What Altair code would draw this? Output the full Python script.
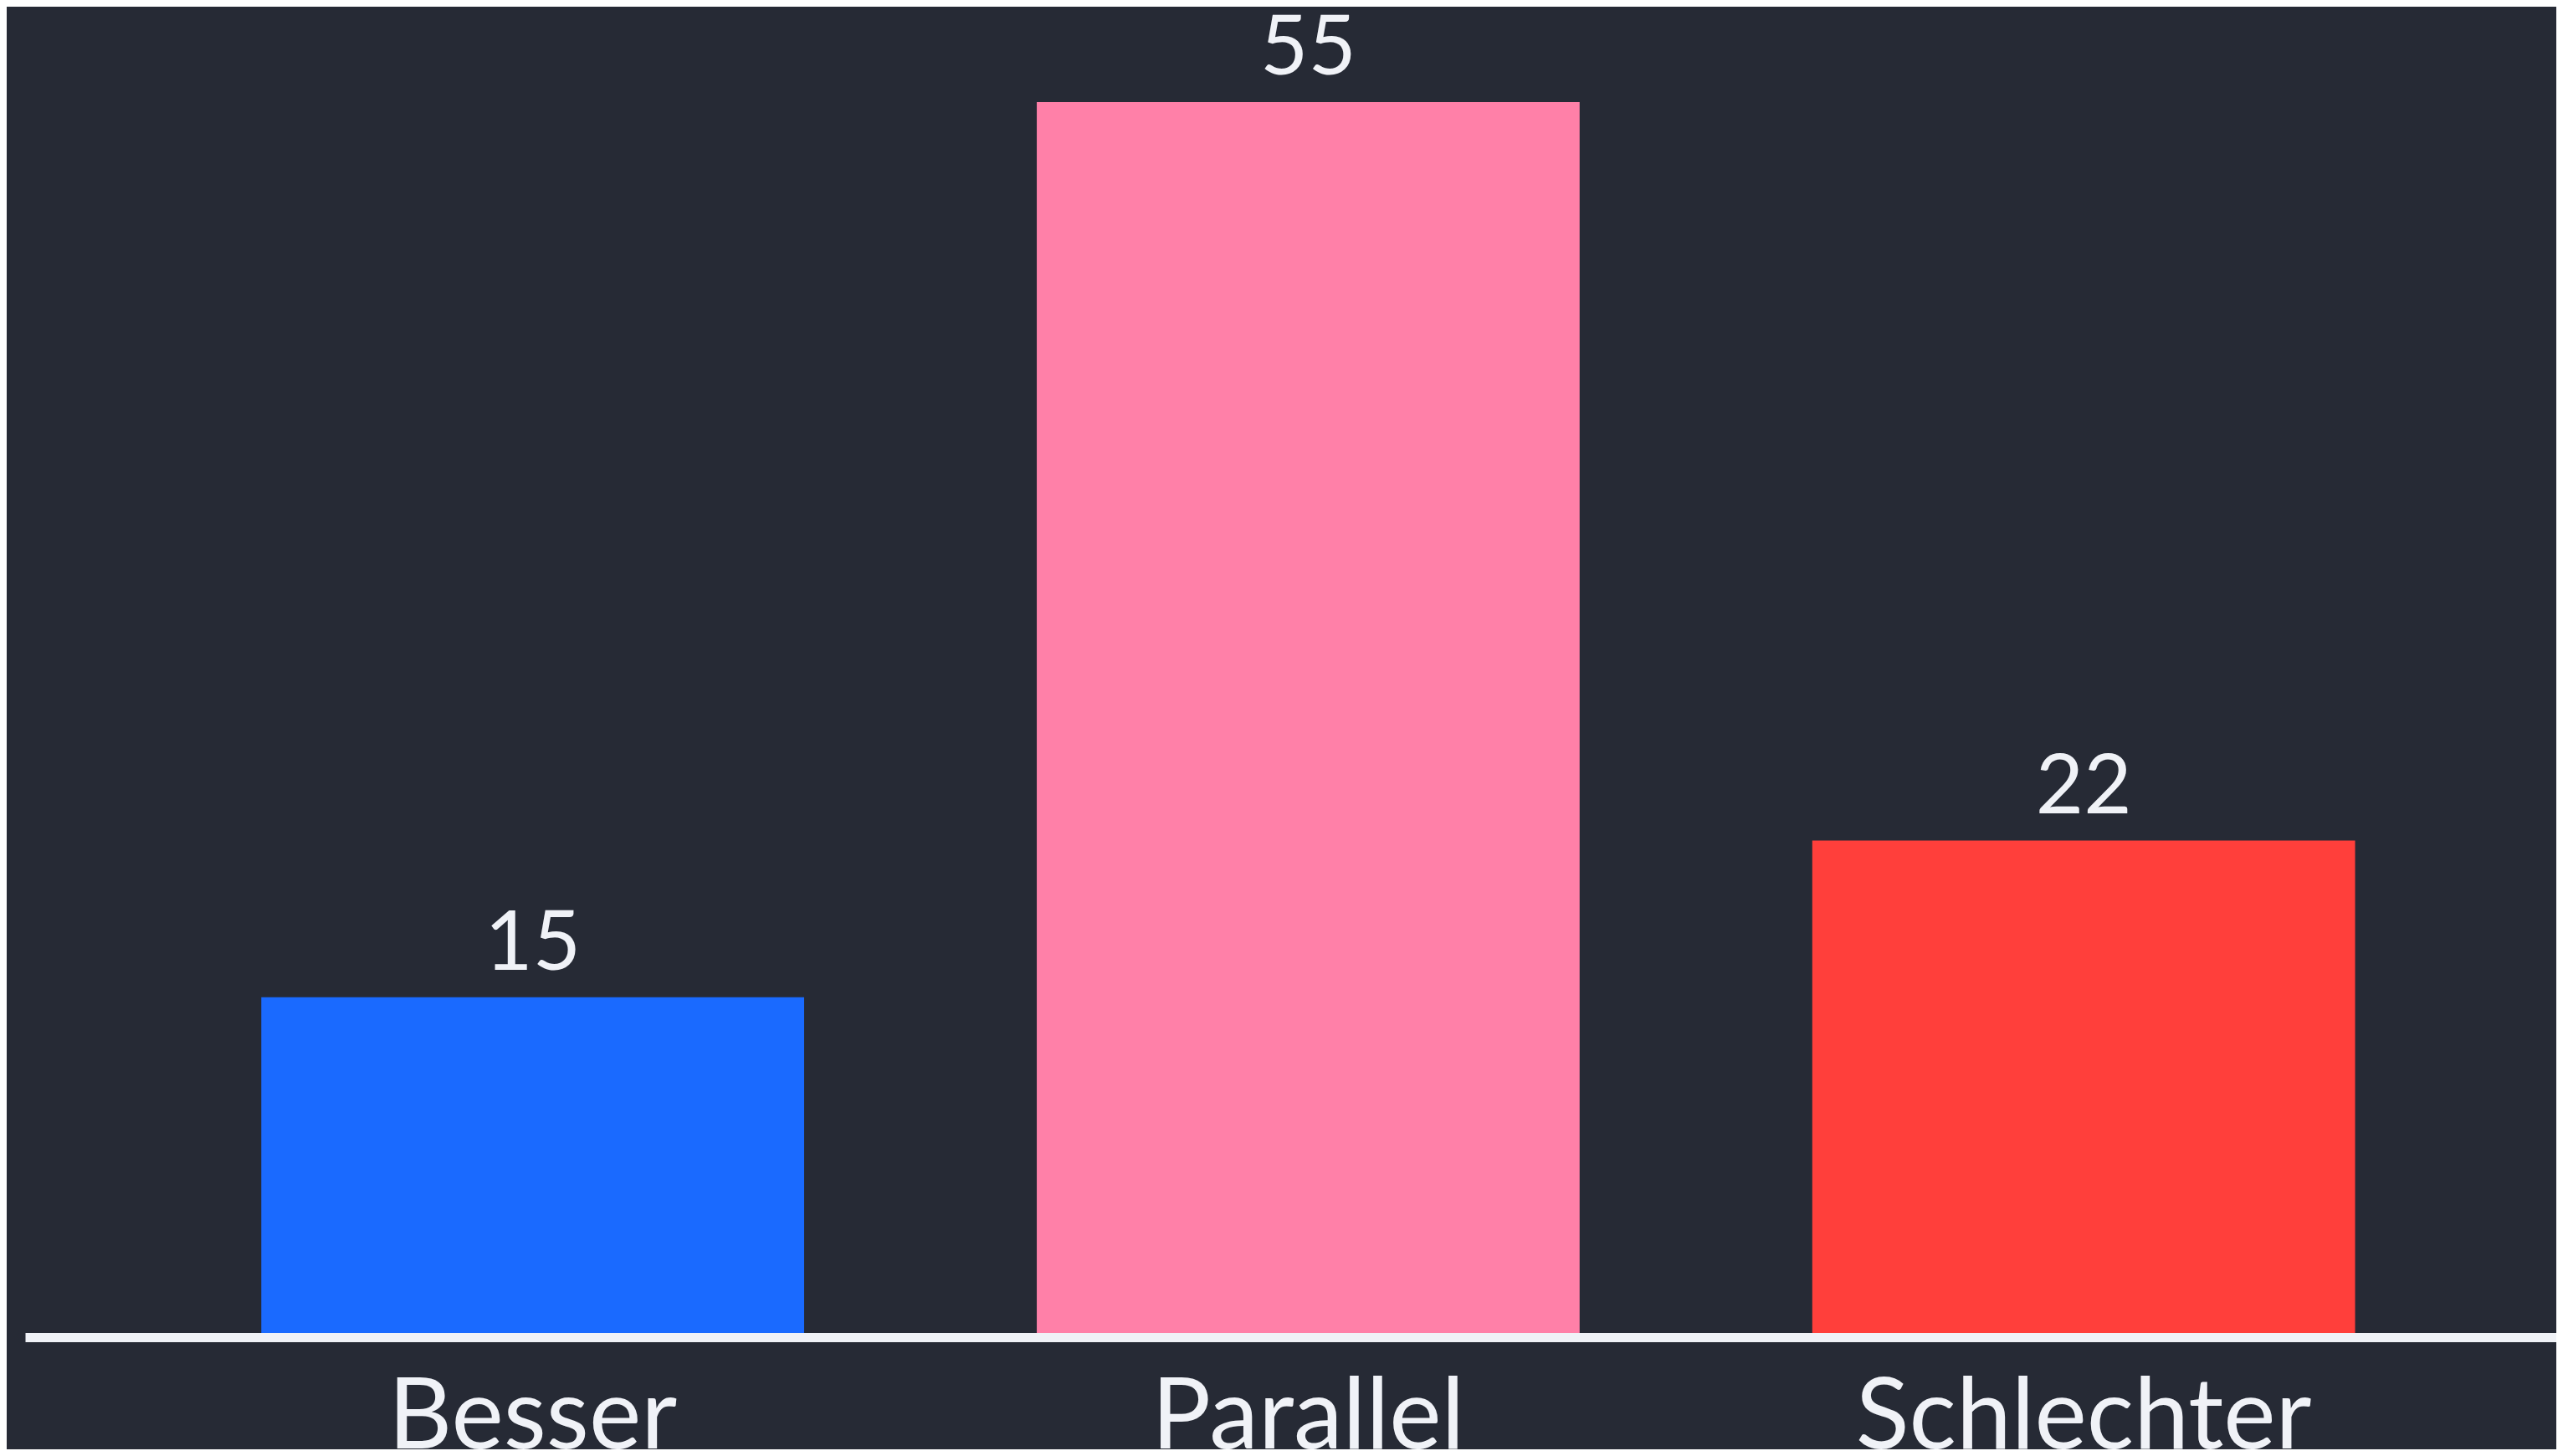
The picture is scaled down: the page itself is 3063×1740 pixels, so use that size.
import altair as alt
import pandas as pd

categories = ["Besser", "Parallel", "Schlechter"]
values = [15, 55, 22]
colors = ["#1a6aff", "#ff80a8", "#ff3f3b"]

df = pd.DataFrame({"cat": categories, "val": values, "col": colors})

x = alt.X(
    "cat:N",
    sort=categories,
    title=None,
    scale=alt.Scale(paddingInner=0.3, paddingOuter=0.282, align=0.54),
    axis=alt.Axis(
        labelAngle=0,
        labelFont="Lato",
        labelFontSize=118,
        labelColor="#f0f2f7",
        labelBaseline="alphabetic",
        labelPadding=132,
        labelLimit=0,
        labelOverlap=False,
        ticks=False,
        tickSize=0,
        grid=False,
        domainColor="#f0f2f7",
        domainWidth=11,
        offset=5,
    ),
)
y = alt.Y("val:Q", title=None, axis=None, scale=alt.Scale(domain=[0, 55], nice=False))

bars = alt.Chart(df).mark_bar().encode(
    x=x, y=y, color=alt.Color("col:N", scale=None, legend=None)
)
labels = alt.Chart(df).mark_text(
    font="Lato", fontSize=99, color="#f0f2f7", baseline="alphabetic", dy=-33
).encode(x=x, y=y, text="val:Q")

chart = (
    alt.layer(bars, labels)
    .properties(
        width=3025,
        height=1471,
        background="#262a35",
        padding={"left": 22, "top": 114, "right": 0, "bottom": 139},
        autosize=alt.AutoSizeParams(type="none"),
    )
    .configure_view(stroke=None)
)

chart.save("out.html", embed_options={"renderer": "svg", "actions": False})
